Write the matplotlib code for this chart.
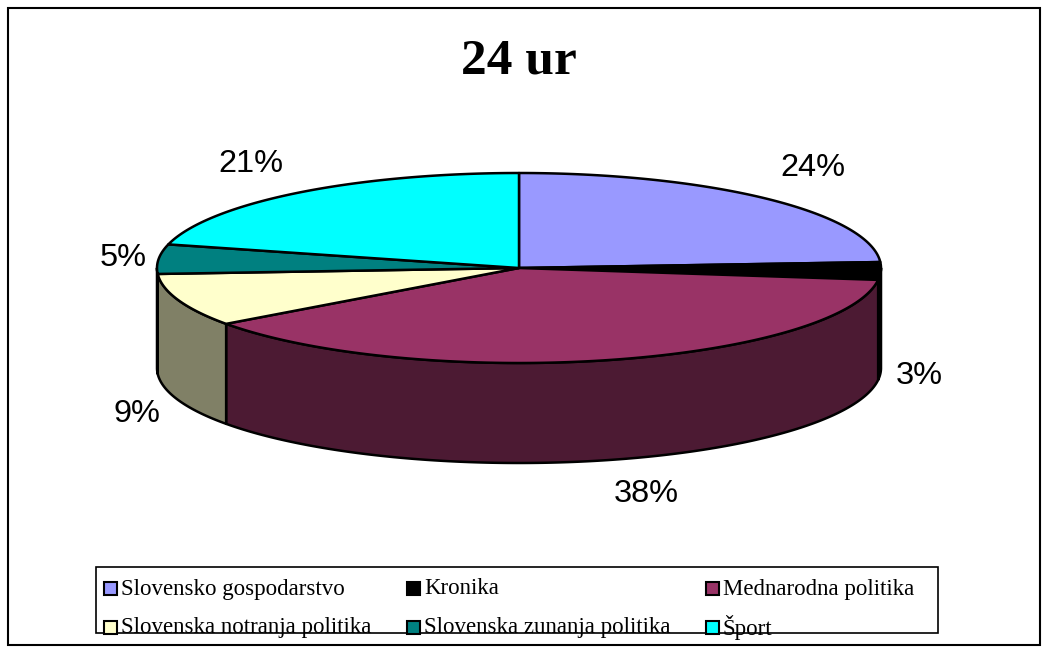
import numpy as np
import matplotlib
matplotlib.use("Agg")
import matplotlib.pyplot as plt
from matplotlib.patches import Polygon, Rectangle

# podatki
title = "24 ur"
categories = ["Slovensko gospodarstvo", "Kronika", "Mednarodna politika",
              "Slovenska notranja politika", "Slovenska zunanja politika", "Šport"]
values = [24, 3, 38, 9, 5, 21]
labels = ["24%", "3%", "38%", "9%", "5%", "21%"]

top_colors = ["#9999FF", "#000000", "#993366", "#FFFFCC", "#008080", "#00FFFF"]
side_colors = ["#4D4D80", "#000000", "#4C1A33", "#808066", "#004040", "#008080"]

# geometrija (piksli)
W, H = 1048, 653
cx, cy = 519, 268
rx, ry = 362, 95
depth = 100

fig = plt.figure(figsize=(W / 100, H / 100), dpi=100)
ax = fig.add_axes([0, 0, 1, 1])
ax.set_xlim(0, W)
ax.set_ylim(H, 0)
ax.axis("off")


def arc(t1, t2, dy=0, n=200):
    t = np.radians(np.linspace(t1, t2, n))
    return np.column_stack([cx + rx * np.cos(t), cy - ry * np.sin(t) + dy])


total = sum(values)
fracs = np.array(values) / total
ends = 90 - np.cumsum(fracs) * 360
starts = np.concatenate([[90], ends[:-1]])

# stranice (samo sprednji del)
for i in range(len(values)):
    lo = max(ends[i], -180)
    hi = min(starts[i], 0)
    if lo < hi:
        pts = np.vstack([arc(lo, hi), arc(hi, lo, depth)])
        ax.add_patch(Polygon(pts, closed=True, facecolor=side_colors[i],
                             edgecolor="black", lw=1.8, joinstyle="round"))

# zgornje ploskve
for i in range(len(values)):
    pts = np.vstack([[cx, cy], arc(starts[i], ends[i])])
    ax.add_patch(Polygon(pts, closed=True, facecolor=top_colors[i],
                         edgecolor="black", lw=1.8, joinstyle="round"))

# odstotki
label_pos = [(813, 168), (919, 376), (646, 494), (137, 414), (123, 258), (251, 164)]
for (x, y), lab in zip(label_pos, labels):
    ax.text(x, y, lab, ha="center", va="center", fontsize=23.4,
            family="Liberation Sans")

ax.text(519, 62, title, ha="center", va="center", fontsize=37,
        fontweight="bold", family="Liberation Serif")

# okvir
ax.add_patch(Rectangle((8, 8), 1032, 637, fill=False, edgecolor="black", lw=1.5))

# legenda
ax.add_patch(Rectangle((96, 567), 842, 66, fill=False, edgecolor="black", lw=1.2))
col_x = [104, 407, 706]
row_y = [589, 628]
for i, name in enumerate(categories):
    x = col_x[i % 3]
    y = row_y[i // 3]
    ax.add_patch(Rectangle((x, y - 7), 13, 13, facecolor=top_colors[i],
                           edgecolor="black", lw=1.5))
    ax.text(x + 17, y, name, ha="left", va="center", fontsize=16.5,
            family="Liberation Serif")

fig.savefig("out.png", dpi=100)
